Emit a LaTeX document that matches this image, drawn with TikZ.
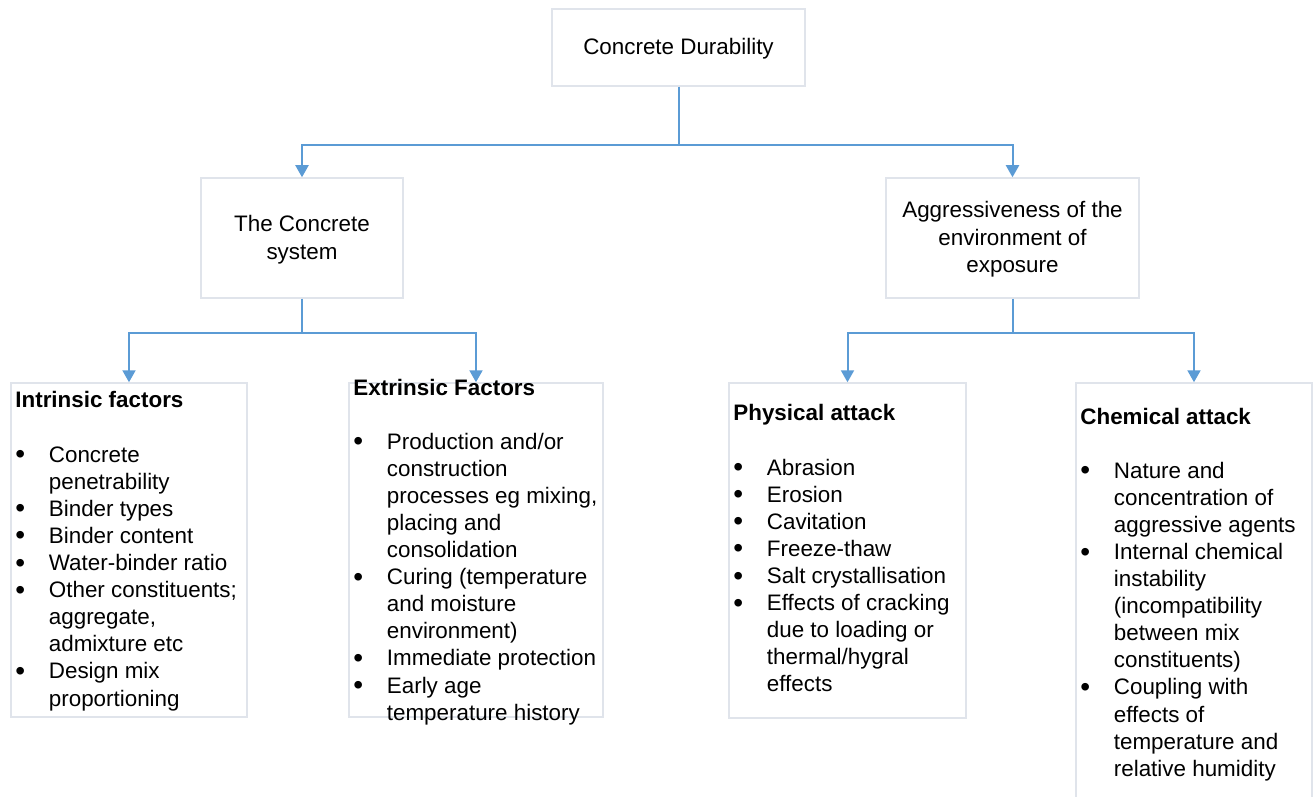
\documentclass[tikz,border=0pt]{standalone}
\usepackage{fontspec}
\usepackage{graphicx}
\setmainfont{Liberation Sans}
\usetikzlibrary{arrows.meta}
\definecolor{linkblue}{RGB}{91,155,213}
\definecolor{framegray}{RGB}{224,228,235}
% bullet cell of a list row
\newcommand{\bul}{\makebox[16.75pt][l]{\raisebox{-0.75pt}{\scalebox{1.25}{\textbullet}}}}
\tikzset{
  frame/.style={draw=framegray, line width=0.75pt, fill=white, inner sep=0pt},
  label text/.style={inner sep=0pt, font=\fontsize{11.2}{13.55}\selectfont},
  link/.style={draw=linkblue, line width=1pt, -{Triangle[width=6.5pt,length=6pt]}}
}
\begin{document}
\begin{tikzpicture}[x=0.5pt, y=-0.5pt]
\clip (0,0) rectangle (1314,797);
\fill[white] (0,0) rectangle (1314,797);

% frames
\node[frame, minimum width=126.5pt, minimum height=38.5pt] (top)  at (678.5,47.5) {};
\node[frame, minimum width=101pt,   minimum height=60pt]   (sys)  at (302,238)    {};
\node[frame, minimum width=126.5pt, minimum height=60pt]   (agg)  at (1012.5,238) {};
\node[frame, minimum width=118pt,   minimum height=167pt]  (intr) at (129,550)    {};
\node[frame, minimum width=127pt,   minimum height=167pt]  (extr) at (476,550)    {};
\node[frame, minimum width=118.5pt, minimum height=167.5pt] (phys) at (847.5,550.5) {};
\node[frame, minimum width=118pt,   minimum height=218.5pt] (chem) at (1194,601.5) {};

% headings
\node[label text, anchor=base] (topT) at (678.5,55) {Concrete Durability};
\node[label text, anchor=base] (sysT) at (302,232)
  {\begin{tabular}[t]{@{}c@{}}The Concrete\\system\end{tabular}};
\node[label text, anchor=base] (aggT) at (1012.5,218)
  {\begin{tabular}[t]{@{}c@{}}Aggressiveness of the\\environment of\\exposure\end{tabular}};

% factor lists
\node[label text, anchor=base west] (intrT) at (15,408)
  {\begin{tabular}[t]{@{}l@{}l@{}}
   \multicolumn{2}{@{}l@{}}{\textbf{Intrinsic factors}}\\
   \\
   \bul & Concrete\\
        & penetrability\\
   \bul & Binder types\\
   \bul & Binder content\\
   \bul & Water-binder ratio\\
   \bul & Other constituents;\\
        & aggregate,\\
        & admixture etc\\
   \bul & Design mix\\
        & proportioning
   \end{tabular}};

\node[label text, anchor=base west] (extrT) at (353,395)
  {\begin{tabular}[t]{@{}l@{}l@{}}
   \multicolumn{2}{@{}l@{}}{\textbf{Extrinsic Factors}}\\
   \\
   \bul & Production and/or\\
        & construction\\
        & processes eg mixing,\\
        & placing and\\
        & consolidation\\
   \bul & Curing (temperature\\
        & and moisture\\
        & environment)\\
   \bul & Immediate protection\\
   \bul & Early age\\
        & temperature history
   \end{tabular}};

\node[label text, anchor=base west] (physT) at (733,421)
  {\begin{tabular}[t]{@{}l@{}l@{}}
   \multicolumn{2}{@{}l@{}}{\textbf{Physical attack}}\\
   \\
   \bul & Abrasion\\
   \bul & Erosion\\
   \bul & Cavitation\\
   \bul & Freeze-thaw\\
   \bul & Salt crystallisation\\
   \bul & Effects of cracking\\
        & due to loading or\\
        & thermal/hygral\\
        & effects
   \end{tabular}};

\node[label text, anchor=base west] (chemT) at (1080,424)
  {\begin{tabular}[t]{@{}l@{}l@{}}
   \multicolumn{2}{@{}l@{}}{\textbf{Chemical attack}}\\
   \\
   \bul & Nature and\\
        & concentration of\\
        & aggressive agents\\
   \bul & Internal chemical\\
        & instability\\
        & (incompatibility\\
        & between mix\\
        & constituents)\\
   \bul & Coupling with\\
        & effects of\\
        & temperature and\\
        & relative humidity
   \end{tabular}};

% connectors
\path (top.south) ++(0,58) coordinate (j1);
\path (sys.south) ++(0,34) coordinate (j2);
\path (agg.south) ++(0,34) coordinate (j3);
\draw[link] (top.south) -- (j1) -| (sys.north);
\draw[link] (j1) -| (agg.north);
\draw[link] (sys.south) -- (j2) -| (intr.north);
\draw[link] (j2) -| (extr.north);
\draw[link] (agg.south) -- (j3) -| (phys.north);
\draw[link] (j3) -| (chem.north);
\end{tikzpicture}
\end{document}
